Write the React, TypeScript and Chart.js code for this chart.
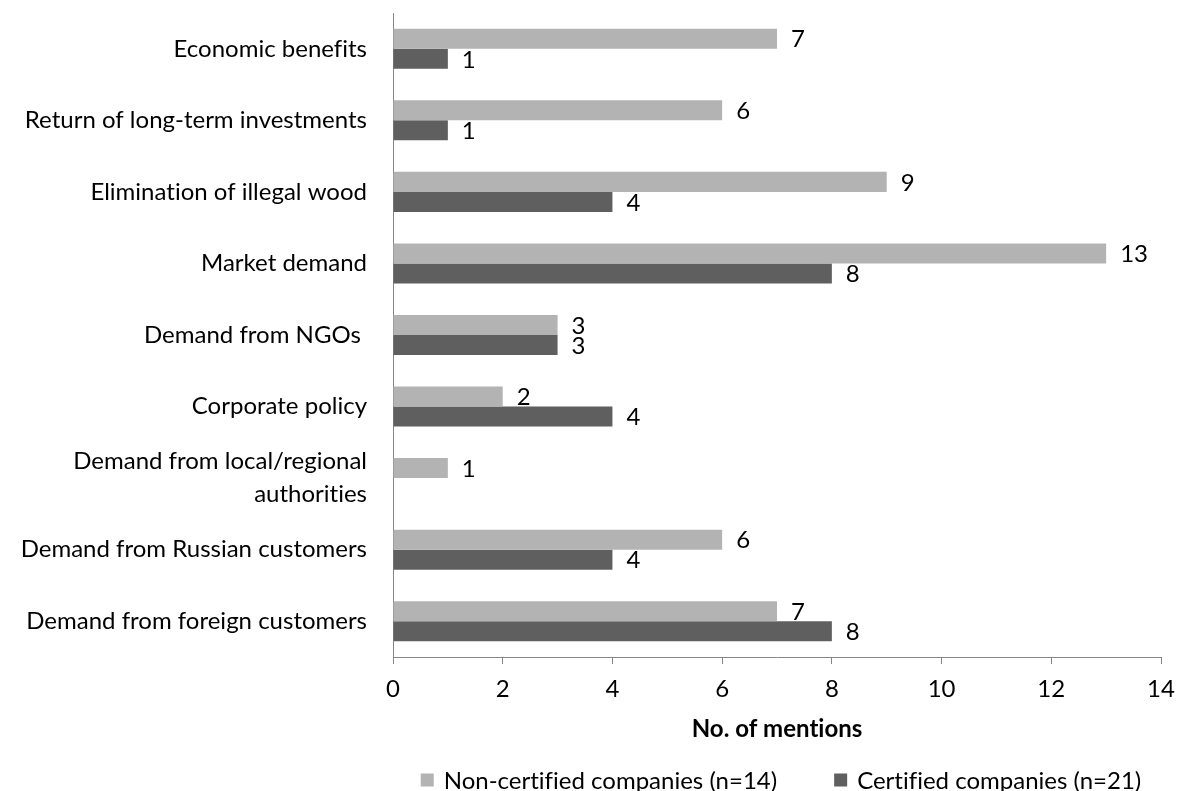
import React, { useEffect, useRef } from "react";
import { Chart, registerables } from "chart.js";

Chart.register(...registerables);

const categories: (string | string[])[] = [
  "Economic benefits",
  "Return of long-term investments",
  "Elimination of illegal wood",
  "Market demand",
  "Demand from NGOs ",
  "Corporate policy",
  ["Demand from local/regional", "authorities"],
  "Demand from Russian customers",
  "Demand from foreign customers",
];

const nonCertified: (number | null)[] = [7, 6, 9, 13, 3, 2, 1, 6, 7];
const certified: (number | null)[] = [1, 1, 4, 8, 3, 4, null, 4, 8];

const seriesNames = ["Non-certified companies (n=14)", "Certified companies (n=21)"];
const seriesColors = ["#b3b3b3", "#5f5f5f"];

const xTicks = { min: 0, max: 14, step: 2 };
const axisTitle = "No. of mentions";

const FONT = "Lato, 'Open Sans', sans-serif";
const FS = 24;

const noLigatures = {
  id: "noLigatures",
  beforeDraw(chart: any) {
    try {
      chart.ctx.textRendering = "optimizeSpeed";
    } catch (e) {}
  },
};

const valueLabels = {
  id: "valueLabels",
  afterDatasetsDraw(chart: any) {
    const ctx = chart.ctx;
    ctx.save();
    ctx.font = `${FS}px ${FONT}`;
    ctx.fillStyle = "#000";
    ctx.textAlign = "left";
    ctx.textBaseline = "middle";
    chart.data.datasets.forEach((ds: any, i: number) => {
      const meta = chart.getDatasetMeta(i);
      meta.data.forEach((bar: any, j: number) => {
        const v = ds.data[j];
        if (v === null || v === undefined) return;
        ctx.fillText(String(v), bar.x + 14, bar.y + 1);
      });
    });
    ctx.restore();
  },
};

const customLegend = {
  id: "customLegend",
  afterDraw(chart: any) {
    const ctx = chart.ctx;
    const area = chart.chartArea;
    ctx.save();
    ctx.font = `${FS}px ${FONT}`;
    ctx.textBaseline = "middle";
    ctx.textAlign = "left";
    const box = 13;
    const gapText = 10;
    const gapItems = 57;
    const widths = chart.data.datasets.map((ds: any) => box + gapText + ctx.measureText(ds.label).width);
    const total = widths.reduce((a: number, b: number) => a + b, 0) + gapItems * (widths.length - 1);
    let x = (area.left + area.right) / 2 - total / 2 + 4;
    const y = 780;
    chart.data.datasets.forEach((ds: any, i: number) => {
      ctx.fillStyle = ds.backgroundColor;
      ctx.fillRect(x, y - box / 2, box, box);
      ctx.fillStyle = "#000";
      ctx.fillText(ds.label, x + box + gapText, y + 1);
      x += widths[i] + gapItems;
    });
    ctx.restore();
  },
};

export default function App() {
  const ref = useRef<HTMLCanvasElement>(null);
  useEffect(() => {
    if (!ref.current) return;
    const chart = new Chart(ref.current, {
      type: "bar",
      data: {
        labels: categories,
        datasets: [
          { label: seriesNames[0], data: nonCertified, backgroundColor: seriesColors[0], categoryPercentage: 0.56, barPercentage: 1 },
          { label: seriesNames[1], data: certified, backgroundColor: seriesColors[1], categoryPercentage: 0.56, barPercentage: 1 },
        ],
      },
      options: {
        indexAxis: "y",
        animation: false,
        responsive: false,
        maintainAspectRatio: false,
        layout: { padding: { top: 13, right: 17, bottom: 44, left: 0 } },
        plugins: { legend: { display: false }, tooltip: { enabled: false } },
        scales: {
          y: {
            type: "category",
            grid: { display: false, drawTicks: false },
            border: { display: true, color: "#868686", width: 1 },
            ticks: { autoSkip: false, color: "#000", font: { family: FONT, size: FS, lineHeight: 1.375 }, padding: 26 },
            afterFit: (s: any) => {
              s.width = 393;
              s.paddingTop = 0;
              s.paddingBottom = 0;
              s.paddingLeft = 0;
              s.paddingRight = 0;
            },
          },
          x: {
            min: xTicks.min,
            max: xTicks.max,
            grid: { drawOnChartArea: false, drawTicks: true, tickLength: 7, color: "#868686" },
            border: { display: true, color: "#868686", width: 1 },
            ticks: { stepSize: xTicks.step, color: "#000", font: { family: FONT, size: FS }, padding: 11 },
            title: { display: true, text: axisTitle, color: "#000", font: { family: FONT, size: FS, weight: "bold" }, padding: { top: 0, bottom: 3 } },
            afterFit: (s: any) => {
              s.height = 90;
              s.paddingLeft = 0;
              s.paddingRight = 0;
              s.paddingTop = 0;
              s.paddingBottom = 0;
            },
          },
        },
      },
      plugins: [noLigatures, valueLabels, customLegend],
    });
    return () => chart.destroy();
  }, []);
  return (
    <div style={{ position: "absolute", left: 0, top: 0, width: 1178, height: 791, background: "#fff" }}>
      <canvas ref={ref} width={1178} height={791} style={{ display: "block" }} />
    </div>
  );
}
